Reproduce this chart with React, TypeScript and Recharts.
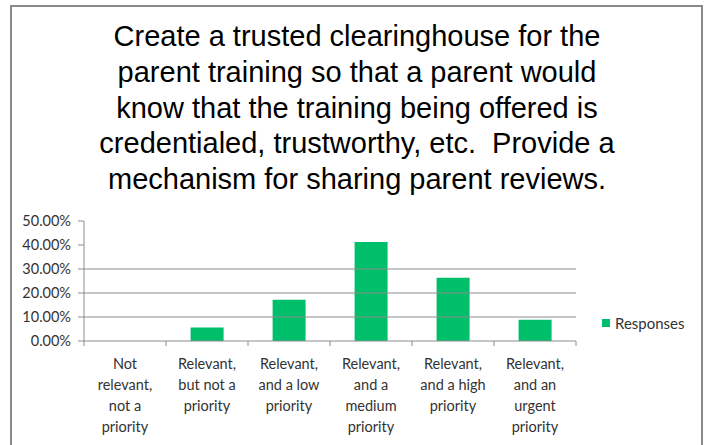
import React from "react";
import { BarChart, Bar, XAxis, YAxis, ReferenceLine, Legend } from "recharts";

const categories = [
  "Not\nrelevant,\nnot a\npriority",
  "Relevant,\nbut not a\npriority",
  "Relevant,\nand a low\npriority",
  "Relevant,\nand a\nmedium\npriority",
  "Relevant,\nand a high\npriority",
  "Relevant,\nand an\nurgent\npriority",
];
const responses = [0, 5.6, 17.2, 41.3, 26.4, 8.9];
const yTicks = [0, 10, 20, 30, 40, 50];
const gridValues = [10, 20, 30];
const titleLines = [
  "Create a trusted clearinghouse for the",
  "parent training so that a parent would",
  "know that the training being offered is",
  "credentialed, trustworthy, etc.  Provide a",
  "mechanism for sharing parent reviews.",
];
const seriesName = "Responses";

const data = categories.map((c, i) => ({ category: c, value: responses[i] }));

const GREEN = "#00BF6B";
const AXIS = "#8c8c8c";
const TEXT = "#333333";
const FONT = "Lato, 'Open Sans', sans-serif";

const XTick = (props: any) => {
  const { x, y, payload } = props;
  const half = payload && typeof payload.offset === "number" && payload.offset > 0 ? payload.offset : 41;
  const lines = String(payload.value).split("\n");
  const isLast = props.index === categories.length - 1;
  return (
    <g>
      <line x1={x - half} x2={x - half} y1={y} y2={y + 5} stroke={AXIS} strokeWidth={1} />
      {isLast && <line x1={x + half} x2={x + half} y1={y} y2={y + 5} stroke={AXIS} strokeWidth={1} />}
      {lines.map((l, i) => (
        <text
          key={i}
          x={x}
          y={y + 22 + i * 21.3}
          textAnchor="middle"
          dominantBaseline="central"
          fontSize={14.5}
          fontFamily={FONT}
          fill={TEXT}
        >
          {l}
        </text>
      ))}
    </g>
  );
};

const LegendContent = () => (
  <div style={{ display: "flex", alignItems: "center", fontFamily: FONT, fontSize: 15, color: TEXT }}>
    <span style={{ display: "inline-block", width: 8, height: 8, background: GREEN, marginRight: 5 }} />
    <span>{seriesName}</span>
  </div>
);

export default function App() {
  return (
    <div style={{ position: "absolute", left: 0, top: 0, width: 706, height: 445, background: "#fff", overflow: "hidden" }}>
      <div
        style={{
          position: "absolute",
          left: 10,
          top: 5,
          width: 693,
          height: 460,
          border: "2px solid #8a8a8a",
          boxSizing: "border-box",
        }}
      />
      <div
        style={{
          position: "absolute",
          left: 11,
          top: 19,
          width: 692,
          textAlign: "center",
          fontFamily: "'Liberation Sans', Arial, sans-serif",
          fontSize: 29,
          lineHeight: "35.8px",
          color: "#000",
        }}
      >
        {titleLines.map((t, i) => (
          <div key={i} style={{ whiteSpace: "pre" }}>{t}</div>
        ))}
      </div>
      <div style={{ position: "absolute", left: 0, top: 0 }}>
        <BarChart
          width={706}
          height={445}
          data={data}
          margin={{ top: 221, right: 130, bottom: 4, left: 0 }}
          barCategoryGap="30%"
        >
          {gridValues.map((v) => (
            <ReferenceLine key={v} y={v} stroke={AXIS} strokeWidth={1} ifOverflow="extendDomain" />
          ))}
          <XAxis
            dataKey="category"
            interval={0}
            tick={<XTick />}
            tickLine={false}
            tickSize={0}
            tickMargin={0}
            height={100}
            axisLine={{ stroke: AXIS, strokeWidth: 1 }}
          />
          <YAxis
            width={84}
            domain={[0, 50]}
            ticks={yTicks}
            interval={0}
            tickFormatter={(v: number) => `${v.toFixed(2)}%`}
            tickSize={6}
            tickMargin={7}
            tickLine={{ stroke: AXIS }}
            axisLine={{ stroke: AXIS, strokeWidth: 1 }}
            tick={{ fontSize: 14.5, fontFamily: FONT, fill: TEXT }}
          />
          <Legend
            layout="vertical"
            align="center"
            verticalAlign="middle"
            content={<LegendContent />}
            wrapperStyle={{ left: 602, top: 314, width: 100, height: 20 }}
          />
          <Bar dataKey="value" name={seriesName} fill={GREEN} isAnimationActive={false} />
        </BarChart>
      </div>
    </div>
  );
}
